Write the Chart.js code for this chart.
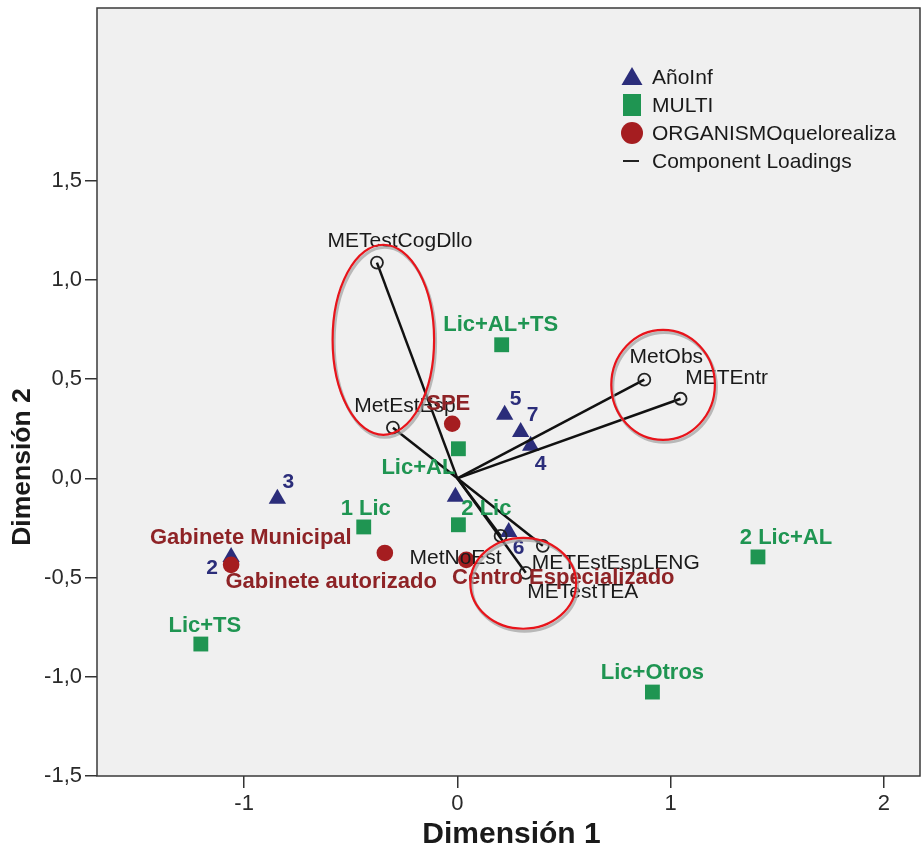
<!DOCTYPE html>
<html>
<head>
<meta charset="utf-8">
<script src="https://cdn.jsdelivr.net/npm/chart.js@4.4.0/dist/chart.umd.min.js"></script>
<style>
html, body { margin: 0; padding: 0; background: #fff; }
#wrap { width: 923px; height: 852px; position: relative; }
</style>
</head>
<body>
<div id="wrap"><canvas id="chart"></canvas></div>
<script>
// AñoInf (triangulos)
var anio_names = ['1', '2', '3', '4', '5', '6', '7'];
var anio_x = [-0.009, -1.061, -0.844, 0.344, 0.222, 0.241, 0.297];
var anio_y = [-0.093, -0.396, -0.103, 0.164, 0.320, -0.270, 0.234];

// MULTI (cuadrados)
var multi_names = ['Lic+AL+TS', 'Lic+AL', '1 Lic', '2 Lic', '2 Lic+AL', 'Lic+TS', 'Lic+Otros'];
var multi_x = [0.208, 0.005, -0.439, 0.005, 1.410, -1.203, 0.915];
var multi_y = [0.673, 0.149, -0.245, -0.234, -0.396, -0.835, -1.077];

// ORGANISMOquelorealiza (circulos)
var org_names = ['SPE', 'Gabinete Municipal', 'Gabinete autorizado', 'Centro Especializado'];
var org_x = [-0.024, -0.340, -1.061, 0.042];
var org_y = [0.275, -0.376, -0.436, -0.411];

// Component Loadings
var load_names = ['METestCogDllo', 'MetEstEsp', 'MetObs', 'METEntr', 'METEstEspLENG', 'METestTEA', 'MetNoEst'];
var load_x = [-0.377, -0.302, 0.877, 1.047, 0.401, 0.321, 0.203];
var load_y = [1.087, 0.255, 0.497, 0.401, -0.340, -0.476, -0.290];

// ejes
var x_ticks = [-1, 0, 1, 2];
var y_ticks = [-1.5, -1.0, -0.5, 0.0, 0.5, 1.0, 1.5];

// elipses rojas (centro x, centro y, radio x, radio y) en unidades de los ejes
var ell_cx = [-0.347, 0.965, 0.309];
var ell_cy = [0.698, 0.471, -0.529];
var ell_rx = [0.238, 0.243, 0.248];
var ell_ry = [0.479, 0.277, 0.229];

// desplazamiento de las etiquetas (px)
var anio_off = [null, [-19, 11], [11, -17], [10, 18], [11, -16], [10, 16], [12, -17]];
var multi_off = [[-1, -20], [-40, 19], [2, -18], [28, -16], [28, -19], [4, -18], [0, -19]];
var org_off = [[-4, -20], [-134, -15], [100, 17], [97, 18]];
var load_off = [[23, -21], [12, -22], [22, -22], [46, -21], [73, 17], [57, 19], [-45, 22]];

var navy = '#2b2d7a';
var green = '#1f9552';
var red = '#a51d20';
var FONT = '"Liberation Sans", Arial, sans-serif';

function pts(xs, ys) {
  return xs.map(function(v, i) { return {x: v, y: ys[i]}; });
}

var datasets = [];
load_x.forEach(function(v, i) {
  datasets.push({
    type: 'line',
    label: load_names[i],
    data: [{x: 0, y: 0}, {x: v, y: load_y[i]}],
    borderColor: '#111',
    borderWidth: 2.5,
    pointRadius: [0, 6],
    pointBackgroundColor: 'rgba(0,0,0,0)',
    pointBorderColor: '#222',
    pointBorderWidth: 1.8,
    showLine: true,
    order: 1
  });
});
datasets.push({
  label: 'AñoInf',
  data: pts(anio_x, anio_y),
  pointStyle: 'triangle',
  pointRadius: 10,
  backgroundColor: navy,
  borderColor: navy,
  borderWidth: 0,
  order: 3
});
datasets.push({
  label: 'MULTI',
  data: pts(multi_x, multi_y),
  pointStyle: 'rect',
  pointRadius: 10.5,
  backgroundColor: green,
  borderColor: green,
  borderWidth: 0,
  order: 4
});
datasets.push({
  label: 'ORGANISMOquelorealiza',
  data: pts(org_x, org_y),
  pointStyle: 'circle',
  pointRadius: 8.3,
  backgroundColor: red,
  borderColor: red,
  borderWidth: 0,
  order: 2
});

function drawLabels(ctx, xs, ys, names, offs, color, font, sx, sy) {
  ctx.fillStyle = color;
  ctx.font = font;
  ctx.textAlign = 'center';
  ctx.textBaseline = 'middle';
  for (var i = 0; i < names.length; i++) {
    if (!offs[i]) continue;
    var px = sx.getPixelForValue(xs[i]) + offs[i][0];
    var py = sy.getPixelForValue(ys[i]) + offs[i][1];
    ctx.fillText(names[i], px, py);
  }
}

var plotPlugin = {
  id: 'plotPlugin',
  beforeDraw: function(chart) {
    var ctx = chart.ctx, a = chart.chartArea;
    ctx.save();
    ctx.fillStyle = '#f0f0f0';
    ctx.fillRect(a.left, a.top, a.right - a.left, a.bottom - a.top);
    ctx.restore();
  },
  afterDatasetsDraw: function(chart) {
    var ctx = chart.ctx, sx = chart.scales.x, sy = chart.scales.y;
    ctx.save();
    drawLabels(ctx, load_x, load_y, load_names, load_off, '#1a1a1a', '21px ' + FONT, sx, sy);
    drawLabels(ctx, multi_x, multi_y, multi_names, multi_off, green, 'bold 22px ' + FONT, sx, sy);
    drawLabels(ctx, anio_x, anio_y, anio_names, anio_off, navy, 'bold 21px ' + FONT, sx, sy);
    drawLabels(ctx, org_x, org_y, org_names, org_off, '#8e2326', 'bold 22px ' + FONT, sx, sy);

    // elipses
    for (var i = 0; i < ell_cx.length; i++) {
      var cx = sx.getPixelForValue(ell_cx[i]);
      var cy = sy.getPixelForValue(ell_cy[i]);
      var rx = Math.abs(sx.getPixelForValue(ell_cx[i] + ell_rx[i]) - cx);
      var ry = Math.abs(sy.getPixelForValue(ell_cy[i] + ell_ry[i]) - cy);
      ctx.beginPath();
      ctx.ellipse(cx + 1.5, cy + 2.5, rx, ry, 0, 0, Math.PI * 2);
      ctx.strokeStyle = 'rgba(160,160,160,0.7)';
      ctx.lineWidth = 3;
      ctx.stroke();
      ctx.beginPath();
      ctx.ellipse(cx, cy, rx, ry, 0, 0, Math.PI * 2);
      ctx.strokeStyle = '#e8141b';
      ctx.lineWidth = 2.2;
      ctx.stroke();
    }
    ctx.restore();
  },
  afterDraw: function(chart) {
    var ctx = chart.ctx, a = chart.chartArea;
    ctx.save();
    // marco
    ctx.strokeStyle = '#3a3a3a';
    ctx.lineWidth = 1.5;
    ctx.strokeRect(a.left, a.top, a.right - a.left, a.bottom - a.top);

    // titulos de los ejes
    ctx.fillStyle = '#1a1a1a';
    ctx.font = 'bold 30px ' + FONT;
    ctx.textAlign = 'center';
    ctx.textBaseline = 'middle';
    ctx.fillText('Dimensión 1', (a.left + a.right) / 2 + 3, 835);
    ctx.translate(23, 467);
    ctx.rotate(-Math.PI / 2);
    ctx.font = 'bold 26.5px ' + FONT;
    ctx.fillText('Dimensión 2', 0, 0);
    ctx.restore();

    // leyenda
    ctx.save();
    var lx = a.right - 288, ly = 77, gap = 28;
    ctx.font = '21px ' + FONT;
    ctx.textAlign = 'left';
    ctx.textBaseline = 'middle';
    ctx.fillStyle = navy;
    ctx.beginPath();
    ctx.moveTo(lx, ly - 10);
    ctx.lineTo(lx + 10.5, ly + 8);
    ctx.lineTo(lx - 10.5, ly + 8);
    ctx.closePath();
    ctx.fill();
    ctx.fillStyle = green;
    ctx.fillRect(lx - 9, ly + gap - 11, 18, 22);
    ctx.fillStyle = red;
    ctx.beginPath();
    ctx.arc(lx, ly + gap * 2, 11, 0, Math.PI * 2);
    ctx.fill();
    ctx.strokeStyle = '#222';
    ctx.lineWidth = 2;
    ctx.beginPath();
    ctx.moveTo(lx - 9, ly + gap * 3);
    ctx.lineTo(lx + 7, ly + gap * 3);
    ctx.stroke();
    ctx.fillStyle = '#1a1a1a';
    var names = ['AñoInf', 'MULTI', 'ORGANISMOquelorealiza', 'Component Loadings'];
    for (var i = 0; i < names.length; i++) {
      ctx.fillText(names[i], lx + 20, ly + gap * i + 1);
    }
    ctx.restore();
  }
};

var ctx = document.getElementById('chart');
new Chart(ctx, {
  type: 'scatter',
  data: { datasets: datasets },
  options: {
    responsive: true,
    maintainAspectRatio: false,
    animation: false,
    layout: { autoPadding: false, padding: { top: 8, right: 3, left: 0, bottom: 0 } },
    plugins: {
      legend: { display: false },
      tooltip: { enabled: false }
    },
    scales: {
      x: {
        type: 'linear',
        min: -1.69,
        max: 2.17,
        afterBuildTicks: function(s) { s.ticks = x_ticks.map(function(v) { return {value: v}; }); },
        afterFit: function(s) { s.height = 76; s.paddingLeft = 0; s.paddingRight = 0; },
        grid: { drawOnChartArea: false, drawTicks: true, tickLength: 12, color: '#333', lineWidth: 1.5 },
        border: { display: false },
        ticks: {
          color: '#2a2a2a',
          padding: 3,
          font: { family: FONT, size: 22 },
          callback: function(v) { return String(v); }
        }
      },
      y: {
        type: 'linear',
        min: -1.5,
        max: 2.37,
        afterBuildTicks: function(s) { s.ticks = y_ticks.map(function(v) { return {value: v}; }); },
        afterFit: function(s) { s.width = 97; s.paddingTop = 0; s.paddingBottom = 0; },
        grid: { drawOnChartArea: false, drawTicks: true, tickLength: 12, color: '#333', lineWidth: 1.5 },
        border: { display: false },
        ticks: {
          color: '#2a2a2a',
          padding: 3,
          font: { family: FONT, size: 22 },
          callback: function(v) { return v.toFixed(1).replace('.', ','); }
        }
      }
    }
  },
  plugins: [plotPlugin]
});
</script>
</body>
</html>
